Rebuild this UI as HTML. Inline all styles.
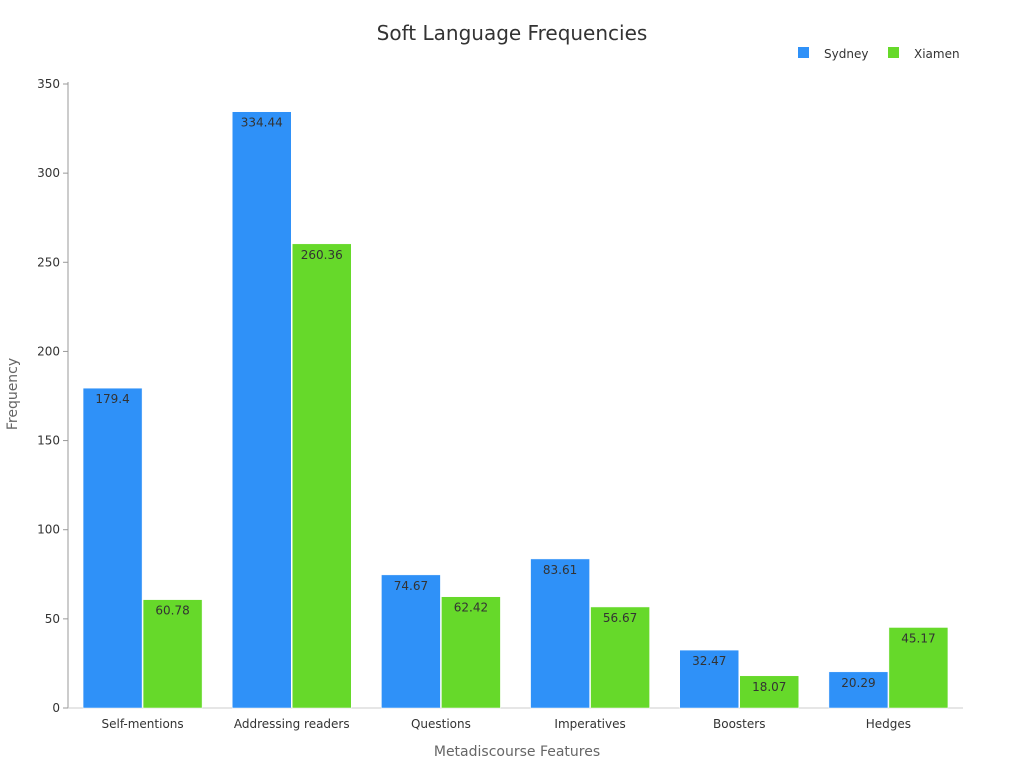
<!DOCTYPE html>
<html><head><meta charset="utf-8"><style>
body{margin:0;background:#fff;font-family:"Liberation Sans","DejaVu Sans",sans-serif;}
</style></head><body>
<svg width="1024" height="768" xmlns="http://www.w3.org/2000/svg" font-family="DejaVu Sans, Liberation Sans, sans-serif">
<text x="512" y="40" text-anchor="middle" font-size="20" fill="#333">Soft Language Frequencies</text>
<g>
<rect x="798" y="47" width="11" height="11" fill="#2f91f8"/>
<text x="824" y="58" font-size="12" fill="#333">Sydney</text>
<rect x="888" y="47" width="11" height="11" fill="#66d92a"/>
<text x="914" y="58" font-size="12" fill="#333">Xiamen</text>
</g>
<text transform="translate(17,394) rotate(-90)" text-anchor="middle" font-size="14" fill="#666">Frequency</text>
<text x="517" y="756" text-anchor="middle" font-size="14" fill="#666">Metadiscourse Features</text>
<g id="axes"></g>
<g id="bars"></g>
</svg>
<script>
const categories=["Self-mentions","Addressing readers","Questions","Imperatives","Boosters","Hedges"];
const sydney=[179.4,334.44,74.67,83.61,32.47,20.29];
const xiamen=[60.78,260.36,62.42,56.67,18.07,45.17];
const yTicks=[0,50,100,150,200,250,300,350];
const NS="http://www.w3.org/2000/svg";
const X0=68,X1=963,Y0=708,YTOP=84,YMAX=350;
const y=v=>Y0-(v/YMAX)*(Y0-YTOP);
const band=(X1-X0)/categories.length;
const cx=i=>X0+band*(i+0.5);
function mk(t,a,p){const e=document.createElementNS(NS,t);for(const k in a)e.setAttribute(k,a[k]);p.appendChild(e);return e;}
const axes=document.getElementById('axes'),bars=document.getElementById('bars');
let l=mk('line',{x1:X0,y1:YTOP-2,x2:X0,y2:Y0,stroke:'#999'},axes);


l=mk('line',{x1:X0,y1:Y0,x2:X1,y2:Y0,stroke:'#ccc'},axes);


yTicks.forEach(t=>{
 const tk=mk('line',{x1:X0-5,y1:y(t),x2:X0,y2:y(t),stroke:'#999'},axes);
 
 
 const tx=mk('text',{x:X0-8,y:y(t)+4,'text-anchor':'end','font-size':12,fill:'#333'},axes);
 tx.textContent=t;
 
 
});
const bw=59;
categories.forEach((c,i)=>{
 const tx=mk('text',{x:cx(i),y:Y0+20,'text-anchor':'middle','font-size':12,fill:'#333'},axes);
 tx.textContent=c;
 
 
 [[sydney,'#2f91f8',-bw-0.5,'sydney'],[xiamen,'#66d92a',0.5,'xiamen']].forEach(([s,col,off,nm])=>{
  const v=s[i];
  const r=mk('rect',{x:cx(i)+off,y:y(v),width:bw,height:Y0-y(v),fill:col,stroke:'#fff','stroke-width':0.5},bars);
  
  
  const lb=mk('text',{x:cx(i)+off+bw/2,y:y(v)+15,'text-anchor':'middle','font-size':12,fill:'#333'},bars);
  lb.textContent=v;
  
  
 });
});
</script>
</body></html>
